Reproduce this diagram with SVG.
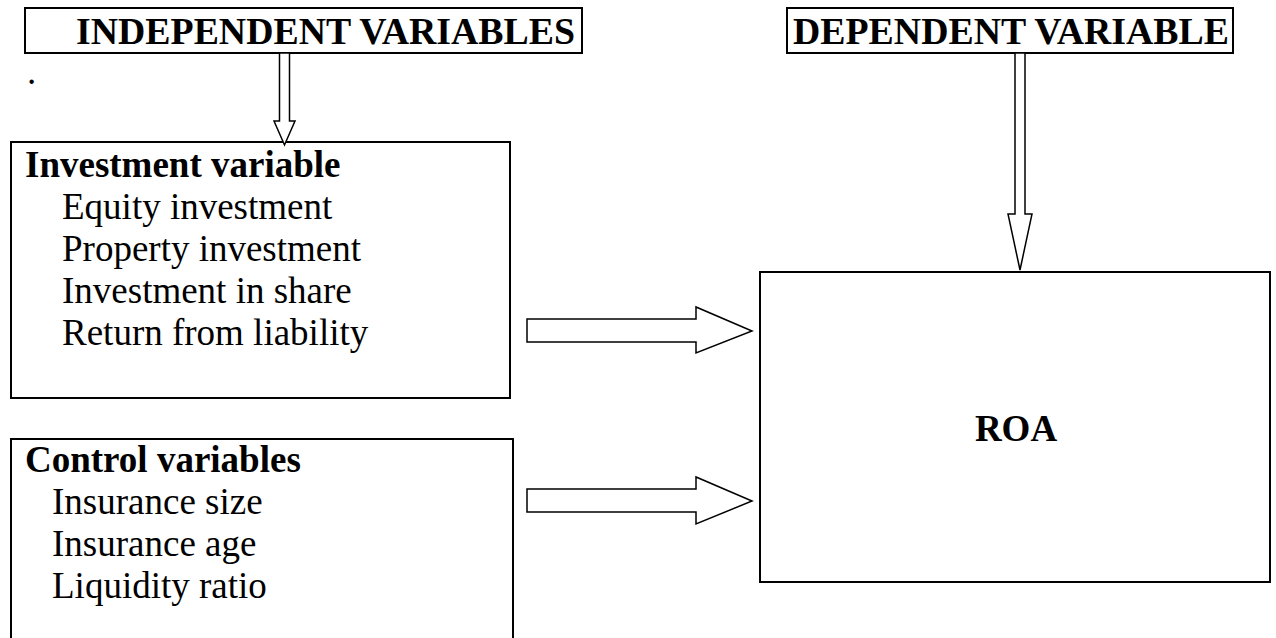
<svg xmlns="http://www.w3.org/2000/svg" width="1276" height="638" viewBox="0 0 1276 638">
<style>
.box{fill:#fff;stroke:#000;stroke-width:2}
.arr{fill:#fff;stroke:#000;stroke-width:1.5;stroke-linejoin:miter}
text{font-family:"Liberation Serif","Times New Roman",serif;fill:#000;font-size:37px}
.b{font-weight:bold}
</style>
<rect width="1276" height="638" fill="#fff"/>
<g id="independent">
<rect class="box" x="25" y="8" width="557" height="45"/>
<text class="b" x="76" y="44" textLength="499" lengthAdjust="spacingAndGlyphs">INDEPENDENT VARIABLES</text>
</g>
<g id="dependent">
<rect class="box" x="787" y="8" width="446" height="45"/>
<text class="b" x="793" y="44" textLength="436" lengthAdjust="spacingAndGlyphs">DEPENDENT VARIABLE</text>
</g>
<text x="27" y="84" font-size="28">.</text>
<g id="investment">
<rect class="box" x="11" y="142" width="499" height="256"/>
<text class="b" x="25" y="177">Investment variable</text>
<text x="62" y="219">Equity investment</text>
<text x="62" y="261">Property investment</text>
<text x="62" y="303">Investment in share</text>
<text x="62" y="345">Return from liability</text>
</g>
<g id="control">
<rect class="box" x="11" y="439" width="502" height="220"/>
<text class="b" x="25" y="472">Control variables</text>
<text x="52" y="514">Insurance size</text>
<text x="52" y="556">Insurance age</text>
<text x="52" y="598">Liquidity ratio</text>
</g>
<g id="roa">
<rect class="box" x="760" y="272" width="510" height="310"/>
<text class="b" x="1016" y="441" text-anchor="middle" font-size="38">ROA</text>
</g>
<g id="connectors">
<path class="arr" d="M279.5,53 V121 H274 L284.5,145 L295,121 H289.5 V53 Z"/>
<path class="arr" d="M1015,53 V214 H1008 L1020,270 L1032,214 H1025 V53 Z"/>
<path class="arr" d="M527,319 H696 V307 L752,331 L696,353 V342 H527 Z"/>
<path class="arr" d="M527,489 H696 V477 L752,501 L696,524 V512 H527 Z"/>
</g>
</svg>
